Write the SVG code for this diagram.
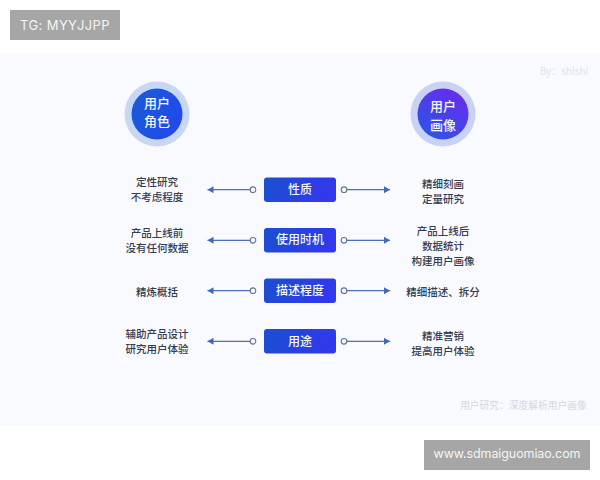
<svg xmlns="http://www.w3.org/2000/svg" width="600" height="480" viewBox="0 0 600 480">
<style>
text{font-family:"Noto Sans CJK SC","Noto Sans",sans-serif;text-anchor:middle}
.t{font-size:10.500px;fill:#333c50;font-weight:500}
.b{font-size:12px;fill:#f4f7ff;font-weight:500}
.c{font-size:13px;fill:#f4f7ff;font-weight:500}
.w{font-family:"Inter","Liberation Sans",sans-serif;fill:#f4f4f4;font-weight:400}
.l{fill:none;stroke:#4a70b8;stroke-width:1.2}
.o{fill:#f8fbff;stroke:#5f7396;stroke-width:1.100}
</style>
<defs>
<linearGradient id="g1" x1="0" y1="0.2" x2="1" y2="0.6"><stop offset="0" stop-color="#1a5bd6"/><stop offset="1" stop-color="#2149ec"/></linearGradient>
<linearGradient id="g2" x1="0.2" y1="1" x2="0.8" y2="0"><stop offset="0" stop-color="#2a56e6"/><stop offset="1" stop-color="#6a2aec"/></linearGradient>
<linearGradient id="g3" x1="0" y1="0" x2="1" y2="0.2"><stop offset="0" stop-color="#1a50d0"/><stop offset="1" stop-color="#3238ec"/></linearGradient>
<marker id="a" markerWidth="8" markerHeight="8" refX="6" refY="3.500" orient="auto" markerUnits="userSpaceOnUse"><path d="M0,0L6,3.500L0,7Z" fill="#4468b8"/></marker>
</defs>
<rect width="600" height="480" fill="#fff"/>
<rect y="53" width="600" height="373" fill="#f8faff"/>
<g id="tag"><rect x="10" y="10" width="110" height="30" fill="#a6a6a6"/><text class="w" x="65" y="30" font-size="13" letter-spacing=".4">TG: MYYJJPP</text></g>
<g id="site"><rect x="424" y="440" width="166" height="30" fill="#a6a6a6"/><text class="w" x="507" y="458" font-size="12.500" letter-spacing="-.1">www.sdmaiguomiao.com</text></g>
<text id="by" x="564" y="75" font-size="10" fill="#dfe3ea" font-family="Noto Sans">By：shishi</text>
<text id="foot" x="523.500" y="409" font-size="9.750" fill="#d3d8e2">用户研究：深度解析用户画像</text>
<g id="role-user"><circle cx="157" cy="114" r="32.500" fill="#c8d7f6"/><circle cx="157" cy="114" r="25.500" fill="url(#g1)"/><text class="c" x="157" y="108">用户</text><text class="c" x="157" y="126">角色</text></g>
<g id="role-persona"><circle cx="443" cy="114" r="32.500" fill="#c8d2f4"/><circle cx="443" cy="114" r="25.500" fill="url(#g2)"/><text class="c" x="443" y="111">用户</text><text class="c" x="443" y="130">画像</text></g>
<g id="n1"><rect x="264" y="177.500" width="72" height="24.500" rx="3" fill="url(#g3)"/><text class="b" x="300" y="194">性质</text></g>
<g id="n2"><rect x="264" y="228" width="72" height="24.500" rx="3" fill="url(#g3)"/><text class="b" x="300" y="244">使用时机</text></g>
<g id="n3"><rect x="264" y="278.500" width="72" height="24.500" rx="3" fill="url(#g3)"/><text class="b" x="300" y="295">描述程度</text></g>
<g id="n4"><rect x="264" y="329" width="72" height="24.500" rx="3" fill="url(#g3)"/><text class="b" x="300" y="345.500">用途</text></g>
<g id="left-labels">
<text class="t" x="157" y="186">定性研究</text><text class="t" x="157" y="201">不考虑程度</text>
<text class="t" x="157" y="237">产品上线前</text><text class="t" x="157" y="252">没有任何数据</text>
<text class="t" x="157" y="296">精炼概括</text>
<text class="t" x="157" y="338">辅助产品设计</text><text class="t" x="157" y="353">研究用户体验</text>
</g>
<g id="right-labels">
<text class="t" x="443" y="188">精细刻画</text><text class="t" x="443" y="203">定量研究</text>
<text class="t" x="443" y="235">产品上线后</text><text class="t" x="443" y="250">数据统计</text><text class="t" x="443" y="265">构建用户画像</text>
<text class="t" x="443" y="296">精细描述、拆分</text>
<text class="t" x="443" y="340">精准营销</text><text class="t" x="443" y="355">提高用户体验</text>
</g>
<g id="connectors">
<path class="l" marker-end="url(#a)" d="M253 189.700H207.500"/><circle class="o" cx="253" cy="189.700" r="2.800"/>
<path class="l" marker-end="url(#a)" d="M253 240.300H207.500"/><circle class="o" cx="253" cy="240.300" r="2.800"/>
<path class="l" marker-end="url(#a)" d="M253 290.700H207.500"/><circle class="o" cx="253" cy="290.700" r="2.800"/>
<path class="l" marker-end="url(#a)" d="M253 341.300H207.500"/><circle class="o" cx="253" cy="341.300" r="2.800"/>
<path class="l" marker-end="url(#a)" d="M344 189.700H390"/><circle class="o" cx="344" cy="189.700" r="2.800"/>
<path class="l" marker-end="url(#a)" d="M344 240.300H390"/><circle class="o" cx="344" cy="240.300" r="2.800"/>
<path class="l" marker-end="url(#a)" d="M344 290.700H390"/><circle class="o" cx="344" cy="290.700" r="2.800"/>
<path class="l" marker-end="url(#a)" d="M344 341.300H390"/><circle class="o" cx="344" cy="341.300" r="2.800"/>
</g>
</svg>
